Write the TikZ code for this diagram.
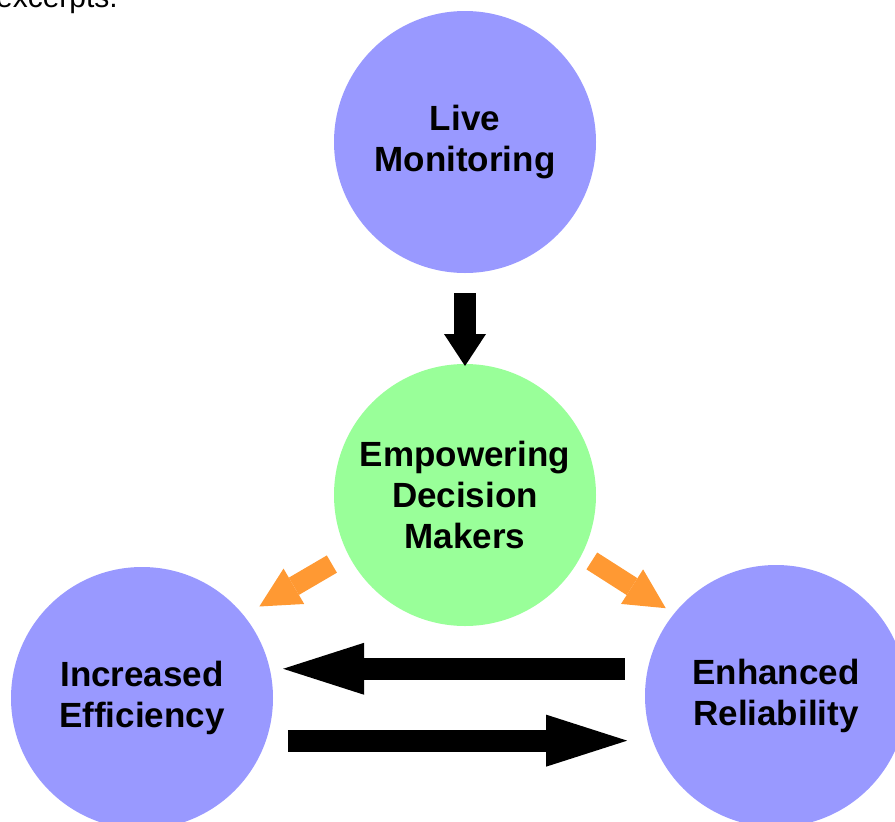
\documentclass[tikz,border=0pt]{standalone}
\usepackage{fontspec}
\setmainfont{Liberation Sans}
\usetikzlibrary{arrows.meta}

\begin{document}
\begin{tikzpicture}[x=1pt,y=-1pt]%[>=Triangle]

	\def\xmax{895}
	\def\ymax{822}

	\def\dia{262pt}
	\def\shaft{22pt}

	% Colours
	\colorlet{bubblecolor}{blue!40!white}
	\colorlet{hubcolor}{green!40!white}
	\colorlet{splitcolor}{orange!80!white}

	% Styles
	\tikzstyle{bubble}=[circle, fill=bubblecolor, minimum size=\dia, inner sep=0pt, outer sep=0pt,
		align=center, font=\fontsize{35}{41}\selectfont\bfseries]
	\tikzstyle{hub}=[bubble, fill=hubcolor]
	\tikzstyle{downline}=[line width=\shaft, -{Triangle[width=42pt, length=32pt, line width=0pt]}]
	\tikzstyle{flowline}=[line width=\shaft, -{Triangle[width=52pt, length=81pt, line width=0pt]}]
	\tikzstyle{splitline}=[splitcolor, line width=20pt, -{Triangle[width=41pt, length=40pt, line width=0pt]}]

	\useasboundingbox (0,0) rectangle (\xmax,\ymax);

	%== Leftover text line ===================================================
	\node[anchor=base east, inner sep=0pt, font=\fontsize{30}{36}\selectfont] (excerpt) at (118,7) {excerpts.};

	%== Circles ==============================================================
	\node[bubble] (live)  at (465,142) {Live\\Monitoring};
	\node[hub]    (hub)   at (465,495) {Empowering\\Decision\\Makers};
	\node[bubble] (effic) at (142,698) {Increased\\Efficiency};
	\node[bubble] (relia) at (776,696) {Enhanced\\Reliability};

	%== Arrows ===============================================================
	\draw[downline, shorten <=20pt, shorten >=-2pt] (live) -- (hub);

	\draw[splitline, shorten <=19pt, shorten >=18pt] (hub.207) -- (effic.39);
	\draw[splitline, shorten <=12pt, shorten >=10pt] (hub.-27) -- (relia.141);

	% Back and forth
	\coordinate (backstart) at (relia.168);
	\draw[flowline, shorten <=23pt, shorten >=13pt] (backstart) -- (backstart -| effic.12);

	\coordinate (fwdstart) at (effic.-19);
	\draw[flowline, shorten <=22pt, shorten >=25pt] (fwdstart) -- (fwdstart -| relia.199);

\end{tikzpicture}
\end{document}
